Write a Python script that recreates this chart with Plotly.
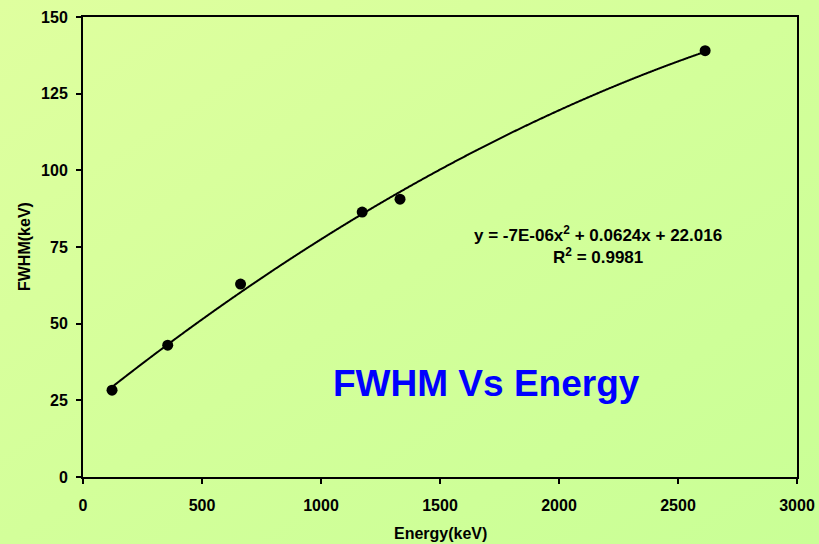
import numpy as np
import plotly.graph_objects as go
import urllib.parse

# Data
energy_kev = [122, 356, 662, 1173, 1332, 2614]
fwhm_kev = [28.3, 43.0, 62.9, 86.4, 90.6, 139.0]

x_ticks = [0, 500, 1000, 1500, 2000, 2500, 3000]
y_ticks = [0, 25, 50, 75, 100, 125, 150]

title_text = "FWHM Vs Energy"
eq_text = "y = -7E-06x<sup>2</sup> + 0.0624x + 22.016"
r2_text = "R<sup>2</sup> = 0.9981"
x_title = "Energy(keV)"
y_title = "FWHM(keV)"

# Polynomial trendline (order 2) fitted to the data
coef = np.polyfit(energy_kev, fwhm_kev, 2)
xs = np.linspace(min(energy_kev), max(energy_kev), 600)
ys = np.polyval(coef, xs)

W, H = 819, 544
L, R, T, B = 83, 22, 17, 67
pw, ph = W - L - R, H - T - B

svg = (
    "<svg xmlns='http://www.w3.org/2000/svg' width='819' height='544' preserveAspectRatio='none'>"
    "<defs><linearGradient id='g' x1='0' y1='0' x2='1' y2='1'>"
    "<stop offset='0' stop-color='#DFFF9F'/>"
    "<stop offset='0.5' stop-color='#D3FF9A'/>"
    "<stop offset='1' stop-color='#C9FF96'/>"
    "</linearGradient></defs>"
    "<rect width='819' height='544' fill='url(#g)'/></svg>"
)
svg_uri = "data:image/svg+xml;charset=utf-8," + urllib.parse.quote(svg)

font = "Liberation Sans, Arial, sans-serif"
FS = 16


def px(xp):
    return (xp - L) / pw


def py(yp):
    return (H - B - yp) / ph


fig = go.Figure()
fig.add_trace(go.Scatter(x=xs, y=ys, mode="lines",
                         line=dict(color="black", width=2, shape="spline"), hoverinfo="skip"))
fig.add_trace(go.Scatter(x=energy_kev, y=fwhm_kev, mode="markers",
                         marker=dict(color="black", size=11)))

axis_common = dict(showgrid=False, zeroline=False, showline=True, mirror=True,
                   linecolor="black", linewidth=2, ticks="outside", ticklen=5,
                   tickwidth=1.5, tickcolor="black", automargin=False,
                   tickfont=dict(family=font, size=FS, color="black", weight="bold"))

fig.update_layout(
    width=W, height=H,
    margin=dict(l=L, r=R, t=T, b=B, autoexpand=False),
    paper_bgcolor="#D3FF9A",
    plot_bgcolor="rgba(0,0,0,0)",
    showlegend=False,
    font=dict(family=font, size=FS, color="black"),
    images=[dict(source=svg_uri, xref="paper", yref="paper",
                 x=-L / pw, y=1 + T / ph, sizex=W / pw, sizey=H / ph,
                 xanchor="left", yanchor="top", sizing="stretch", layer="below")],
    xaxis=dict(range=[0, 3000], tickvals=x_ticks, ticktext=["<b>%d</b>" % v for v in x_ticks],
               ticklabelstandoff=8, **axis_common),
    yaxis=dict(range=[0, 150], tickvals=y_ticks, ticktext=["<b>%d</b>" % v for v in y_ticks],
               ticklabelstandoff=5, **axis_common),
    annotations=[
        dict(text="<b>" + title_text + "</b>", x=px(486), y=py(383),
             xref="paper", yref="paper", showarrow=False, xanchor="center", yanchor="middle",
             font=dict(family=font, size=37, color="#0000FF")),
        dict(text="<b>" + eq_text + "</b>", x=px(598), y=py(234),
             xref="paper", yref="paper", showarrow=False, xanchor="center", yanchor="middle",
             font=dict(family=font, size=17, color="black")),
        dict(text="<b>" + r2_text + "</b>", x=px(598), y=py(256),
             xref="paper", yref="paper", showarrow=False, xanchor="center", yanchor="middle",
             font=dict(family=font, size=17, color="black")),
        dict(text="<b>" + x_title + "</b>", x=px(440), y=py(533),
             xref="paper", yref="paper", showarrow=False, xanchor="center", yanchor="middle",
             font=dict(family=font, size=FS, color="black")),
        dict(text="<b>" + y_title + "</b>", x=px(24), y=py(247), textangle=-90,
             xref="paper", yref="paper", showarrow=False, xanchor="center", yanchor="middle",
             font=dict(family=font, size=FS, color="black")),
    ],
)

fig.write_html("out.html")
